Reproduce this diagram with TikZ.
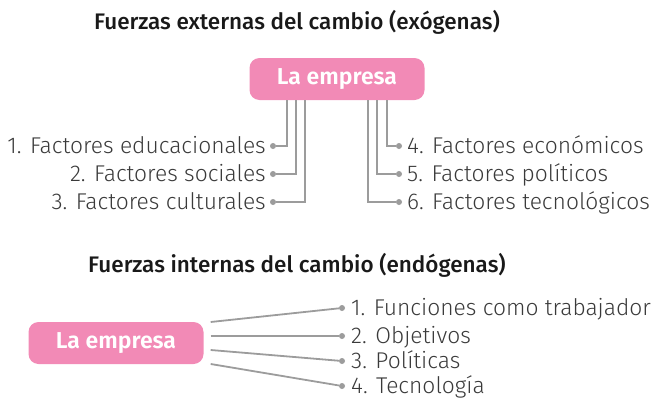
\documentclass[tikz,border=0pt]{standalone}
\usepackage{fontspec}
\setmainfont{Fira Sans}[UprightFont=* Light, BoldFont=* Medium]
\newfontfamily\negrita{Fira Sans SemiBold}
\usetikzlibrary{positioning}
\definecolor{rosa}{HTML}{F28AB6}
\definecolor{gris}{HTML}{9C9C9C}
\definecolor{texto}{HTML}{3A3A3A}
\tikzset{
  caja/.style={rectangle,rounded corners=10pt,fill=rosa,text=white,
    font=\fontsize{23}{26}\selectfont\negrita,minimum width=175pt,minimum height=42pt},
  punto/.style={circle,fill=gris,inner sep=0pt,minimum size=6pt},
  linea/.style={draw=gris,line width=1.8pt},
  etq/.style={text=texto,font=\fontsize{22.8}{26}\selectfont,inner sep=0pt},
  titulo/.style={text=black!90,font=\fontsize{22.5}{26}\selectfont\bfseries}
}
\begin{document}
\begin{tikzpicture}[x=1pt,y=-1pt]
    \useasboundingbox (0,0) rectangle (651,399);
    % Fuerzas externas
    \node[titulo] (tit1) at (297,22) {Fuerzas externas del cambio (exógenas)};
    \node[caja] (emp1) at (337,79) {La empresa};

    \node[punto] (p1) at (273,146) {};
    \node[punto] (p2) at (273,174) {};
    \node[punto] (p3) at (273,202) {};
    \node[punto] (p4) at (399,146) {};
    \node[punto] (p5) at (399,174) {};
    \node[punto] (p6) at (399,202) {};

    \node[etq,anchor=base east] (f1) at ([xshift=-7pt,yshift=-7pt]p1.center) {1. Factores educacionales};
    \node[etq,anchor=base east] (f2) at ([xshift=-7pt,yshift=-7pt]p2.center) {2. Factores sociales};
    \node[etq,anchor=base east] (f3) at ([xshift=-7pt,yshift=-7pt]p3.center) {3. Factores culturales};
    \node[etq,anchor=base west] (f4) at ([xshift=8pt,yshift=-7pt]p4.center) {4. Factores económicos};
    \node[etq,anchor=base west] (f5) at ([xshift=8pt,yshift=-7pt]p5.center) {5. Factores políticos};
    \node[etq,anchor=base west] (f6) at ([xshift=8pt,yshift=-7pt]p6.center) {6. Factores tecnológicos};

    \draw[linea] (emp1.south -| 287,0) |- (p1);
    \draw[linea] (emp1.south -| 296,0) |- (p2);
    \draw[linea] (emp1.south -| 305,0) |- (p3);
    \draw[linea] (emp1.south -| 387,0) |- (p4);
    \draw[linea] (emp1.south -| 377,0) |- (p5);
    \draw[linea] (emp1.south -| 368,0) |- (p6);

    % Fuerzas internas
    \node[titulo] (tit2) at (297,265) {Fuerzas internas del cambio (endógenas)};
    \node[caja] (emp2) at (116,343) {La empresa};

    \node[punto] (q1) at (342,308) {};
    \node[punto] (q2) at (342,336) {};
    \node[punto] (q3) at (342,361) {};
    \node[punto] (q4) at (342,386) {};

    \node[etq,anchor=base west] (i1) at ([xshift=9pt,yshift=-7pt]q1.center) {1. Funciones como trabajador};
    \node[etq,anchor=base west] (i2) at ([xshift=9pt,yshift=-7pt]q2.center) {2. Objetivos};
    \node[etq,anchor=base west] (i3) at ([xshift=9pt,yshift=-7pt]q3.center) {3. Políticas};
    \node[etq,anchor=base west] (i4) at ([xshift=9pt,yshift=-7pt]q4.center) {4. Tecnología};

    \draw[linea] ([xshift=7pt,yshift=21pt]emp2.east) -- (q1);
    \draw[linea] ([xshift=7pt,yshift=7pt]emp2.east) -- (q2);
    \draw[linea] ([xshift=7pt,yshift=-7pt]emp2.east) -- (q3);
    \draw[linea] ([xshift=7pt,yshift=-21pt]emp2.east) -- (q4);
\end{tikzpicture}
\end{document}
